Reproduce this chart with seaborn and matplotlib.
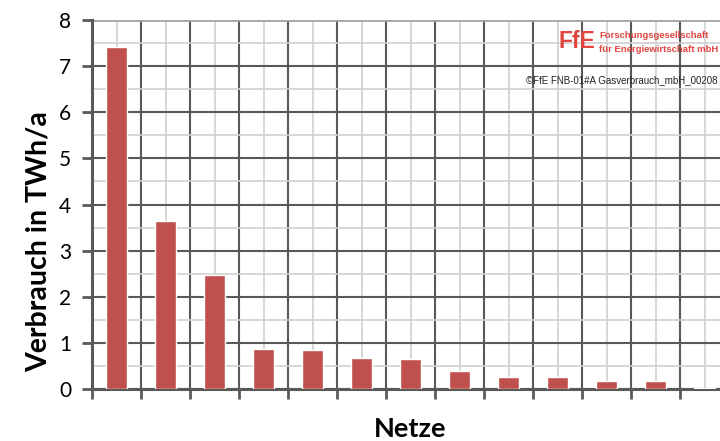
import matplotlib
matplotlib.use("Agg")
import matplotlib.pyplot as plt
import seaborn as sns
import pandas as pd
from matplotlib.ticker import MultipleLocator, FixedLocator

netze = [f"Netz {i}" for i in range(1, 14)]
verbrauch = [7.42, 3.64, 2.47, 0.87, 0.84, 0.67, 0.65, 0.39, 0.27, 0.26, 0.18, 0.17, 0.03]
y_ticks = [0, 1, 2, 3, 4, 5, 6, 7, 8]

df = pd.DataFrame({"Netz": netze, "Verbrauch": verbrauch})

sns.set_style("white")
plt.rcParams['font.family'] = ['Lato', 'DejaVu Sans']
plt.rcParams['text.color'] = 'black'
plt.rcParams['axes.labelcolor'] = 'black'
plt.rcParams['ytick.color'] = 'black'

fig = plt.figure(figsize=(7.2, 4.41), dpi=100)
ax = fig.add_axes([92/720, 1 - 389/441, 637/720, 369/441])

sns.barplot(data=df, x="Netz", y="Verbrauch", color="#C0504D", width=0.41,
            saturation=1, ax=ax, zorder=3)

n = len(netze)
ax.set_xlim(-0.5, n - 0.5)
ax.set_ylim(0, 8)

ax.xaxis.set_major_locator(FixedLocator([i - 0.5 for i in range(n + 1)]))
ax.xaxis.set_minor_locator(FixedLocator(list(range(n))))
ax.set_xticklabels([])
ax.yaxis.set_major_locator(FixedLocator(y_ticks))
ax.yaxis.set_minor_locator(MultipleLocator(0.5))

ax.grid(which="minor", color="#D0D0D0", linewidth=1.2, zorder=0)
ax.grid(which="major", color="#595959", linewidth=1.5, zorder=1)
ax.set_axisbelow(True)

for s in ["top", "right"]:
    ax.spines[s].set_visible(False)
ax.spines["left"].set_color("#595959")
ax.spines["left"].set_linewidth(2.2)
ax.spines["bottom"].set_color("#595959")
ax.spines["bottom"].set_linewidth(2.2)
ax.axhline(8, color="#A6A6A6", linewidth=2, zorder=2)

ax.tick_params(axis="x", which="major", direction="out", length=7, width=2,
               color="#595959", bottom=True)
ax.tick_params(axis="x", which="minor", length=0)
ax.tick_params(axis="y", which="major", direction="out", length=7, width=2,
               color="#595959", left=True, labelsize=15, pad=8, labelcolor="black")
ax.tick_params(axis="y", which="minor", length=0)

ax.set_xlabel("Netze", fontsize=19.5, fontweight="bold")
ax.xaxis.set_label_coords((410 - 92) / 637, (389 - 417) / 369)
ax.set_ylabel("Verbrauch in TWh/a", fontsize=20.5, fontweight="bold")
ax.yaxis.set_label_coords((52 - 92) / 637, (389 - 242) / 369)

logo_red = "#E0453F"
sans = ["Liberation Sans", "DejaVu Sans"]
fig.text(558/720, 1 - 42/441, "FfE", color=logo_red, fontsize=16.5, fontweight="heavy",
         ha="left", va="center", family=sans)
fig.text(599/720, 1 - 36/441, "Forschungsgesellschaft", color=logo_red, fontsize=6.8,
         fontweight="bold", ha="left", va="center", family=sans)
fig.text(599/720, 1 - 50/441, "für Energiewirtschaft mbH", color=logo_red, fontsize=6.8,
         fontweight="bold", ha="left", va="center", family=sans)
fig.text(0.997, 0.818, "©FfE FNB-01#A Gasverbrauch_mbH_00208", color="#222222",
         fontsize=7, ha="right", va="center", family=sans)

fig.savefig("out.png", dpi=100)
